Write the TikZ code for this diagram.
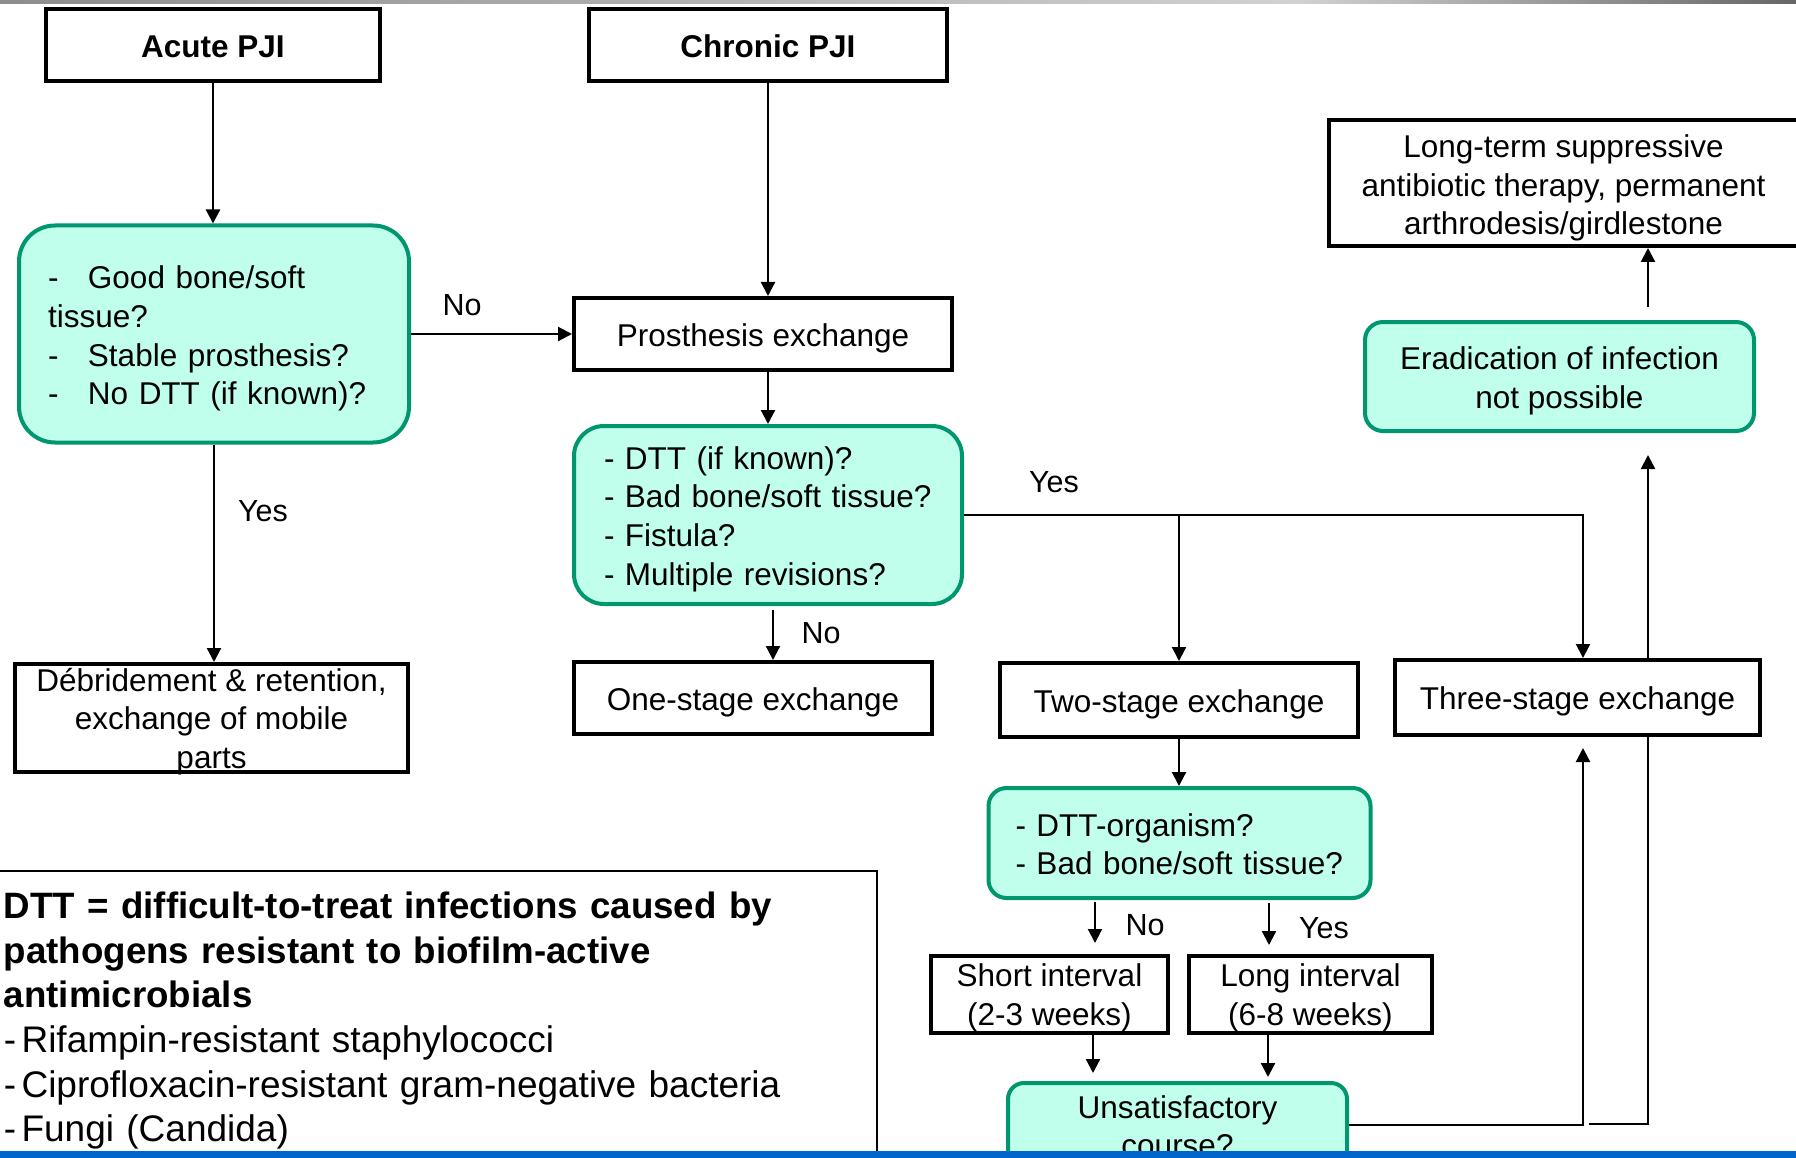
\documentclass[tikz,border=0pt]{standalone}
\usepackage{fontspec}
\setmainfont{Liberation Sans}
\usetikzlibrary{arrows.meta,calc,backgrounds}
\definecolor{qfill}{RGB}{192,255,235}
\definecolor{qline}{RGB}{0,150,110}
\definecolor{barblue}{RGB}{0,102,204}
\newcommand{\boxfont}{\fontsize{31.5pt}{38.6pt}\selectfont}
\newcommand{\tagfont}{\fontsize{30.5pt}{36pt}\selectfont}
\newcommand{\legfont}{\fontsize{37pt}{44.7pt}\selectfont}
\newcommand{\dashtab}{\makebox[40pt][l]{-}}
% invisible strut on a first line: lowers a centred text block a little
\newcommand{\lift}[1]{\rule{0pt}{#1pt}}
\newcommand{\itemdash}{-\hspace{5.5pt}}

\begin{document}
\begin{tikzpicture}[x=1pt,y=-1pt,
  plain/.style={draw=black, fill=white, line width=4pt, inner sep=0pt, align=center, font=\boxfont},
  query/.style={draw=qline, fill=qfill, line width=4pt, inner sep=0pt, font=\boxfont},
  link/.style={line width=2.2pt, -{Triangle[length=14pt,width=14pt]}},
  tag/.style={font=\tagfont, inner sep=0pt}]

\useasboundingbox (0,0) rectangle (1796,1158);
\begin{scope}[on background layer]
  \fill[white] (0,0) rectangle (1796,1158);
\end{scope}

% entry points
\node[plain, font=\boxfont\bfseries, minimum width=334pt, minimum height=72pt] (acute) at (213,45) {\lift{25}Acute PJI};
\node[plain, font=\boxfont\bfseries, minimum width=358pt, minimum height=72pt] (chronic) at (768,45) {\lift{25}Chronic PJI};

% acute branch
\node[query, minimum width=390pt, minimum height=217pt, rounded corners=36pt, text width=332pt, inner xsep=29pt, align=left] (q1) at (214,334)
  {\lift{32}\dashtab Good bone/soft\\tissue?\\\dashtab Stable prosthesis?\\\dashtab No DTT (if known)?};
\node[plain, minimum width=393pt, minimum height=108pt] (debr) at (211.5,718)
  {Débridement \& retention,\\exchange of mobile\\\smash{parts}};

% chronic branch
\node[plain, minimum width=378pt, minimum height=72pt] (prost) at (763,334) {\lift{31}Prosthesis exchange};
\node[query, minimum width=388pt, minimum height=178pt, rounded corners=30pt, text width=328pt, inner xsep=30pt, align=left] (q2) at (768,515)
  {\lift{31}- DTT (if known)?\\- Bad bone/soft tissue?\\- Fistula?\\- Multiple revisions?};
\node[plain, minimum width=358pt, minimum height=72pt] (one) at (753,698) {\lift{31}One-stage exchange};
\node[plain, minimum width=358pt, minimum height=74pt] (two) at (1179,700) {\lift{31}Two-stage exchange};
\node[plain, minimum width=365pt, minimum height=75pt] (three) at (1577.5,697.5) {\lift{31}Three-stage exchange};

% two-stage details
\node[query, minimum width=382pt, minimum height=110pt, rounded corners=18pt, text width=328pt, inner xsep=27pt, align=left] (q3) at (1179.5,843)
  {\lift{25}- DTT-organism?\\- Bad bone/soft tissue?};
\node[plain, minimum width=237pt, minimum height=77pt] (short) at (1049.5,994.5) {\lift{29}Short interval\\(2-3 weeks)};
\node[plain, minimum width=243pt, minimum height=77pt] (long) at (1310.5,994.5) {\lift{29}Long interval\\(6-8 weeks)};
\node[query, minimum width=339pt, minimum height=84pt, rounded corners=16pt, align=center] (unsat) at (1177.5,1125) {\lift{25}Unsatisfactory\\course?};

% salvage
\node[query, minimum width=389pt, minimum height=109pt, rounded corners=18pt, align=center] (erad) at (1559.5,376.5) {\lift{31}Eradication of infection\\not possible};
\node[plain, minimum width=469pt, minimum height=126pt] (lt) at (1563.5,183)
  {\lift{33}Long-term suppressive\\antibiotic therapy, permanent\\arthrodesis/girdlestone};

% legend
\node[draw=black, line width=1.5pt, inner sep=0pt, inner xsep=6pt, text width=867pt, minimum height=300pt, align=left, font=\legfont, anchor=north west] (legend) at (-3,870)
  {{\fontsize{36.7pt}{44.7pt}\selectfont\bfseries DTT = difficult-to-treat infections caused by\\pathogens resistant to biofilm-active\\antimicrobials}\\\itemdash Rifampin-resistant staphylococci\\\itemdash Ciprofloxacin-resistant gram-negative bacteria\\\itemdash Fungi (Candida)};

% helper points for offset connectors
\coordinate (q2o) at ($(q2.south)+(5,0)$);
\coordinate (tin) at ($(three.north)+(5.5,0)$);
\coordinate (tout) at ($(three.south)+(5.5,0)$);
\coordinate (sn) at ($(short.north)+(45.5,0)$);
\coordinate (ln) at ($(long.north)+(-41.5,0)$);
\coordinate (ss) at ($(short.south)+(43.5,0)$);
\coordinate (ls) at ($(long.south)+(-42.5,0)$);
\coordinate (ein) at ($(erad.south)+(88.5,0)$);
\coordinate (loop) at ($(unsat.east)+(240,-1)$);

% connectors
\draw[link] (acute.south) -- (acute.south |- q1.north);
\draw[link] (chronic.south) -- (chronic.south |- prost.north);
\draw[link] (q1.east) -- (prost.west);
\draw[link] (q1.south) -- (q1.south |- debr.north);
\draw[link] (q2.north |- prost.south) -- (q2.north);
\draw[link, shorten <=4pt] (q2o) -- (q2o |- one.north);
\draw[link] (q2.east) -| (tin);
\draw[link] (q2.east -| two.north) -- (two.north);
\draw[link] (two.south) -- (two.south |- q3.north);
\draw[link, shorten <=2pt, shorten >=11pt] (sn |- q3.south) -- (sn);
\draw[link, shorten <=3pt, shorten >=9pt] (ln |- q3.south) -- (ln);
\draw[link, shorten >=8pt] (ss) -- (ss |- unsat.north);
\draw[link, shorten >=4pt] (ls) -- (ls |- unsat.north);
\draw[link, shorten >=11pt] (unsat.east) -| (tout);
\begin{scope}[on background layer]
  \draw[link, shorten >=22pt] (loop) -| (ein);
\end{scope}
\draw[link, shorten <=13pt] (ein |- erad.north) -- (ein |- lt.south);

% branch labels
\node[tag] (noA) at (462,305) {No};
\node[tag] (yesA) at (263,511) {Yes};
\node[tag] (yesB) at (1054,482) {Yes};
\node[tag] (noB) at (821,633) {No};
\node[tag] (noC) at (1145,925) {No};
\node[tag] (yesC) at (1324,928) {Yes};

% page bands
\shade[left color=black!45, right color=black!18] (0,0) rectangle (1300,3.5);
\shade[left color=black!18, right color=black!60] (1300,0) rectangle (1796,3.5);
\fill[barblue] (0,1151) rectangle (1796,1158);
\end{tikzpicture}
\end{document}
